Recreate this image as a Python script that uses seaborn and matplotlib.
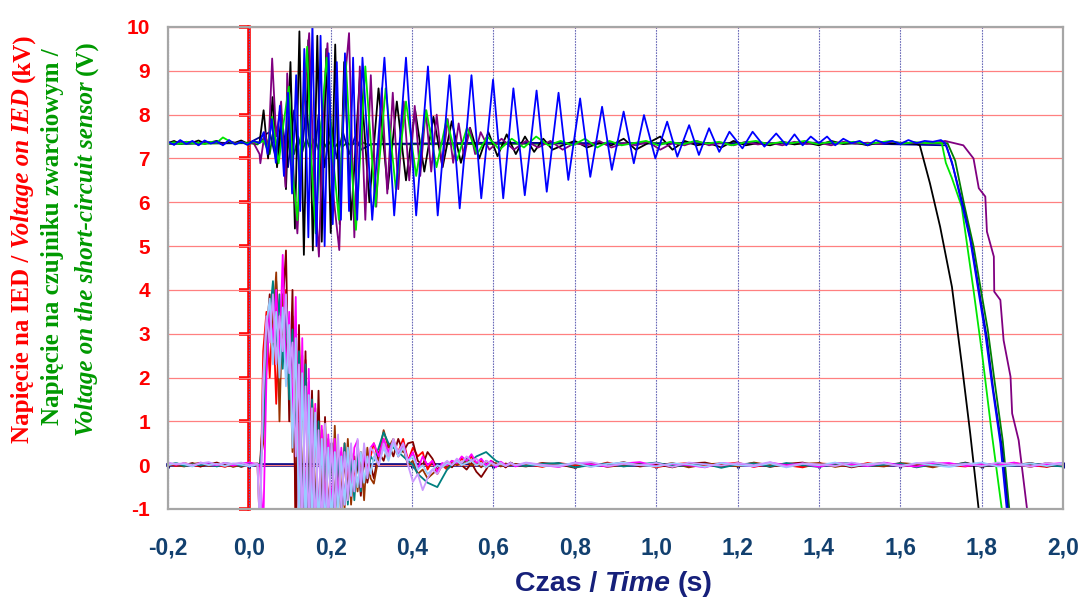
import pandas as pd
import seaborn as sns
import matplotlib
matplotlib.use("Agg")
import matplotlib.pyplot as plt
from matplotlib.transforms import IdentityTransform

# ----------------------------
# DATA
# ----------------------------

x_ticks = [-0.2, 0.0, 0.2, 0.4, 0.6, 0.8, 1.0, 1.2, 1.4, 1.6, 1.8, 2.0]
x_tick_labels = ["-0,2", "0,0", "0,2", "0,4", "0,6", "0,8", "1,0", "1,2", "1,4", "1,6", "1,8", "2,0"]
y_ticks = [-1, 0, 1, 2, 3, 4, 5, 6, 7, 8, 9, 10]
y_tick_labels = ["-1", "0", "1", "2", "3", "4", "5", "6", "7", "8", "9", "10"]


def seg(t0, dt, vals):
    # sampling grid for a run of values read at a steady spacing
    return [round(t0 + dt * i, 4) for i in range(len(vals))], list(vals)


def join(*parts):
    t, v = [], []
    for pt, pv in parts:
        t += list(pt)
        v += list(pv)
    return t, v


# --- voltage on the IED (kV), around 7.35 ---

blue_pre = [7.38, 7.31, 7.42, 7.33, 7.40, 7.30, 7.41, 7.34, 7.39, 7.30, 7.42, 7.32, 7.38, 7.31, 7.40, 7.35]
blue_burst = [7.6, 7.1, 7.9, 6.9, 8.2, 6.6, 8.5, 6.2, 8.9, 5.8, 9.5, 5.2, 10.1, 5.0, 9.8, 5.0,
              9.4, 5.5, 9.2, 5.6, 9.4, 5.8, 9.3, 5.6]
blue_mid_t = [0.278, 0.302, 0.332, 0.356, 0.385, 0.410, 0.439, 0.463, 0.492, 0.517, 0.546, 0.570,
              0.599, 0.624, 0.649, 0.677, 0.706, 0.731, 0.760, 0.784, 0.813, 0.838, 0.867, 0.891,
              0.920, 0.945, 0.970, 0.998, 1.027, 1.052, 1.081, 1.105, 1.130, 1.155, 1.180, 1.212,
              1.237, 1.266, 1.295]
blue_mid_v = [9.3, 5.6, 9.3, 5.7, 9.3, 5.7, 9.1, 5.7, 8.9, 5.86, 8.9, 6.09, 8.8, 6.09, 8.6, 6.16,
              8.55, 6.24, 8.5, 6.51, 8.37, 6.58, 8.18, 6.74, 8.07, 6.89, 7.99, 7.00, 7.84, 7.04,
              7.76, 7.08, 7.69, 7.15, 7.61, 7.23, 7.61, 7.27, 7.57]
blue_tail = [7.3, 7.55, 7.3, 7.5, 7.35, 7.5, 7.3, 7.45, 7.35, 7.4, 7.3, 7.42, 7.35, 7.4, 7.33,
             7.42, 7.35, 7.4, 7.38, 7.42]
blue_fall_t = [1.710, 1.727, 1.751, 1.772, 1.793, 1.809, 1.825, 1.846, 1.862, 1.870]
blue_fall_v = [7.35, 6.92, 5.97, 5.14, 3.92, 3.0, 1.87, 0.5, -1.03, -1.5]

navy_pre = [7.36, 7.34, 7.37, 7.35, 7.36]
navy_burst = [7.6, 7.0, 7.9, 6.8, 8.1, 6.6, 8.3, 6.5, 8.0, 6.8, 7.8, 7.0, 7.6, 7.1, 7.5, 7.2]
navy_rest_t = [0.3, 0.6, 1.0, 1.4, 1.713, 1.73, 1.755, 1.776, 1.797, 1.813, 1.829, 1.85, 1.866, 1.875]
navy_rest_v = [7.33, 7.36, 7.34, 7.36, 7.3, 6.8, 5.9, 5.0, 3.8, 2.9, 1.7, 0.4, -1.1, -1.5]

dkgreen_start_t = [-0.2, 0.0, 0.02]
dkgreen_start_v = [7.33, 7.35, 7.32]
dkgreen_burst = [7.5, 7.1, 7.7, 7.0, 7.6, 6.95, 7.55, 7.1, 7.5, 7.15, 7.45, 7.2,
                 7.45, 7.2, 7.4, 7.25, 7.4, 7.25, 7.38, 7.28, 7.36, 7.3, 7.35, 7.3, 7.36, 7.32]
dkgreen_rest_t = [0.6, 1.0, 1.4, 1.716, 1.735, 1.757, 1.78, 1.80, 1.815, 1.832, 1.852, 1.868, 1.878]
dkgreen_rest_v = [7.33, 7.35, 7.34, 7.35, 6.95, 5.95, 5.0, 3.9, 3.1, 1.9, 0.55, -1.0, -1.5]

black_pre = [7.35, 7.40, 7.33, 7.38, 7.36, 7.41, 7.34, 7.37, 7.40, 7.33, 7.38, 7.36, 7.41, 7.34, 7.38, 7.36]
black_burst = [8.1, 7.0, 8.4, 6.8, 8.0, 6.3, 9.2, 5.4, 9.9, 4.8, 9.7, 4.9, 9.8, 5.1, 9.5, 5.3, 9.6, 5.5, 9.2]
black_mid = [5.6, 9.0, 6.0, 8.6, 6.3, 8.3, 6.5, 8.1, 6.7, 7.95, 6.8, 7.85, 6.9, 7.7, 7.0, 7.6,
             7.05, 7.55, 7.1, 7.5, 7.15, 7.45, 7.2]
black_tail = [7.3, 7.4, 7.25, 7.35, 7.3, 7.45, 7.2, 7.35, 7.5, 7.2, 7.4, 7.3, 7.35, 7.25, 7.4,
              7.3, 7.35, 7.3, 7.38, 7.32, 7.36, 7.3, 7.4, 7.33, 7.36, 7.3, 7.38, 7.34, 7.36, 7.33]
black_fall_t = [1.648, 1.673, 1.698, 1.727, 1.751, 1.772, 1.793, 1.80]
black_fall_v = [7.3, 6.43, 5.44, 4.07, 2.32, 0.72, -1.03, -1.5]

purple_pre = [7.36, 7.32, 7.40, 7.34, 7.38, 7.31, 7.39, 7.35, 7.37, 7.32, 7.40, 7.34, 7.38, 7.33, 7.36, 7.1]
purple_burst_t = [0.027, 0.038, 0.047, 0.056, 0.066, 0.078, 0.089, 0.093, 0.105, 0.118, 0.132,
                  0.147, 0.159, 0.171, 0.182, 0.192, 0.206, 0.221, 0.233, 0.245]
purple_burst_v = [6.89, 7.6, 7.2, 9.28, 7.5, 8.3, 6.35, 8.94, 7.0, 5.29, 8.0, 9.86, 6.5, 4.76,
                  8.2, 9.63, 6.2, 4.91, 8.6, 9.86]
purple_mid = [5.2, 9.1, 5.6, 8.9, 5.9, 8.6, 6.2, 8.5, 6.3, 8.3, 6.5, 8.2, 6.6, 8.1, 6.7, 8.0,
              6.8, 7.9, 6.9, 7.8, 7.0, 7.7, 7.1, 7.6]
purple_tail = [7.2, 7.45, 7.2, 7.4, 7.25, 7.4, 7.2, 7.35, 7.3, 7.4, 7.25, 7.35, 7.3, 7.38, 7.2,
               7.35, 7.3, 7.4, 7.3, 7.36, 7.3, 7.38, 7.32, 7.36, 7.3, 7.38, 7.33, 7.36, 7.3, 7.38,
               7.34, 7.36, 7.33, 7.38, 7.35, 7.36, 7.34, 7.38]
purple_fall_t = [1.710, 1.755, 1.780, 1.793, 1.809, 1.813, 1.830, 1.831, 1.846, 1.854, 1.871,
                 1.875, 1.891, 1.912, 1.92]
purple_fall_v = [7.4, 7.3, 7.0, 6.32, 6.13, 5.33, 4.76, 3.96, 3.77, 2.85, 2.02, 1.18, 0.57, -1.03, -1.5]

lime_pre = [7.34, 7.37, 7.33, 7.38, 7.35, 7.36, 7.33, 7.38, 7.36, 7.48, 7.40, 7.33, 7.37, 7.34, 7.38, 7.36]
lime_burst_t = [0.035, 0.045, 0.056, 0.072, 0.084, 0.097, 0.108, 0.118, 0.130, 0.142, 0.152,
                0.163, 0.177, 0.19, 0.205, 0.22, 0.237, 0.25, 0.262, 0.285]
lime_burst_v = [7.4, 7.2, 7.95, 6.89, 7.8, 8.64, 6.5, 5.59, 8.0, 9.55, 7.0, 5.29, 7.8, 9.3,
                7.1, 5.6, 9.2, 7.0, 5.37, 9.1]
lime_mid = [5.9, 8.6, 6.3, 8.3, 6.6, 8.1, 6.8, 7.9, 6.95, 7.7, 7.1]
lime_tail = [7.5, 7.2, 7.45, 7.25, 7.5, 7.3, 7.4, 7.3, 7.45, 7.25, 7.4, 7.3, 7.35, 7.4, 7.3,
             7.38, 7.32, 7.4, 7.34, 7.38, 7.3, 7.36, 7.4, 7.33, 7.37, 7.35, 7.4, 7.33, 7.37,
             7.35, 7.38, 7.33, 7.36, 7.4, 7.34, 7.37, 7.35, 7.36]
lime_fall_t = [1.702, 1.712, 1.727, 1.751, 1.780, 1.801, 1.825, 1.850, 1.86]
lime_fall_v = [7.35, 6.9, 6.55, 5.9, 4.0, 2.55, 0.72, -1.03, -1.5]

# --- voltage on the short-circuit sensor (V), around 0 ---

red_pre = [0.03, -0.02, 0.05, 0.0, -0.03, 0.04, 0.01, -0.04, 0.03, 0.0, 0.05, -0.02]
red_burst = [-1.5, 2.6, 3.5, 2.0, 3.6, 1.4, 3.3, 2.6, 4.0, 2.2, 3.4, -1.5, 3.0, -1.5, 2.4, -1.5,
             1.6, -1.5, 1.2, -1.3, 0.8, -1.2, 0.5, -1.0, 0.4, -0.8, 0.5, -0.6, 0.3, -0.4, 0.4,
             -0.3, 0.3, -0.1, 0.2]
red_hump = [0.5, 0.1, 0.6, 0.2, 0.5, 0.3, 0.6, 0.1, 0.4, 0.2, 0.3, -0.1, 0.1, -0.2, 0.0, -0.1,
            0.1, 0.0, 0.15, 0.05, 0.2, 0.0, 0.1, -0.05, 0.1, 0.0, 0.05, -0.05, 0.05, 0.0]
red_tail = [0.03, -0.04, 0.05, 0.0, -0.03, 0.06, -0.02, 0.04, -0.05, 0.02, 0.05, -0.03, 0.01,
            0.06, -0.04, 0.03, 0.0, -0.05, 0.04, 0.02, -0.03, 0.05, -0.01, 0.03, -0.04, 0.06,
            0.0, -0.03, 0.04, -0.02, 0.05, 0.0, -0.04, 0.03]

maroon_pre = [-0.02, 0.04, 0.0, 0.05, -0.03, 0.02, 0.06, -0.01, 0.03, -0.04, 0.02, 0.04]
maroon_burst = [0.0, 1.2, 3.0, 3.9, 2.5, 4.2, 2.8, 3.6, 4.9, 1.0, 4.0, -1.5, 3.2, -1.5, 2.6,
                -1.5, 1.7, -1.5, 1.7, -1.5, 1.1, -1.4, 0.5, -1.2, 0.4, -1.0, 0.2, -0.8, 0.3,
                -0.6, 0.1, -0.7, 0.2, -0.4, 0.0]
maroon_hump = [-0.3, 0.3, 0.1, 0.5, 0.2, 0.6, 0.3, 0.5, 0.53, 0.1, 0.0, 0.3, 0.15, -0.1, 0.0,
               0.05, -0.05, 0.1, 0.0, -0.1, 0.05, -0.15, -0.27, -0.1, 0.1, 0.0, 0.05, -0.05, 0.06, 0.0]
maroon_tail = [-0.03, 0.05, 0.02, -0.06, 0.04, 0.0, 0.07, -0.03, 0.02, -0.05, 0.04, 0.06, -0.02,
               0.0, 0.05, -0.04, 0.03, 0.06, -0.02, 0.04, -0.05, 0.02, 0.05, -0.03, 0.0, 0.04,
               -0.02, 0.06, -0.04, 0.03, 0.0, 0.05, -0.03, 0.04]

brown_pre = [0.04, 0.0, -0.03, 0.03, 0.05, -0.02, 0.02, 0.04, -0.04, 0.01, 0.03, 0.0]
brown_burst = [0.0, 0.5, 2.5, 3.7, 3.2, 4.4, 1.0, 3.9, 2.5, 3.2, 0.3, 2.8, -1.5, 2.5, -1.5, 1.9,
               -1.5, 1.3, -1.5, 0.8, -1.4, 0.6, -1.3, 0.9, -1.1, 0.3, -1.0, 0.6, -0.9, 0.2,
               -0.6, 0.3, -0.8, 0.4, -0.3]
brown_hump = [-0.42, 0.2, 0.8, 0.4, 0.6, 0.2, 0.4, 0.0, 0.1, -0.2, -0.1, -0.3, -0.2, -0.1, 0.0,
              -0.05, 0.1, 0.0, 0.05, 0.1, 0.0, 0.05, -0.05, 0.1, 0.0, 0.05, -0.03, 0.04, 0.0, 0.03]
brown_tail = [0.0, 0.04, -0.03, 0.02, 0.05, -0.04, 0.01, 0.03, -0.02, 0.05, -0.05, 0.02, 0.04,
              -0.03, 0.06, 0.0, -0.02, 0.03, 0.05, -0.04, 0.02, 0.0, -0.03, 0.05, 0.02, -0.05,
              0.03, 0.0, 0.04, -0.02, 0.03, -0.04, 0.05, 0.0]

teal_pre = [0.01, 0.05, -0.02, 0.02, 0.0, 0.04, -0.03, 0.05, 0.02, -0.02, 0.04, 0.01]
teal_burst = [0.0, 0.8, 2.3, 3.4, 4.2, 2.7, 3.9, 2.2, 3.7, 1.5, 3.1, 0.5, 2.6, -1.5, 2.3, -1.5,
              1.5, -1.5, 1.0, -1.5, 0.7, -1.5, 0.5, -1.2, 0.3, -1.0, 0.5, -0.9, 0.2, -0.8, 0.3,
              -0.6, 0.4, -0.3, 0.2]
teal_hump = [0.1, 0.4, 0.75, 0.5, 0.4, 0.3, 0.2, 0.1, 0.0, -0.2, -0.3, -0.4, -0.45, -0.5, -0.3,
             -0.1, 0.0, 0.1, 0.05, 0.15, 0.1, 0.2, 0.25, 0.3, 0.2, 0.1, 0.05, 0.0, 0.05, 0.0]
teal_tail = [-0.02, 0.03, 0.05, -0.05, 0.0, 0.04, -0.03, 0.02, 0.06, -0.02, 0.0, 0.03, -0.06,
             0.02, 0.04, -0.03, 0.05, 0.0, -0.04, 0.03, 0.05, -0.02, 0.01, 0.04, -0.05, 0.02,
             0.0, 0.05, -0.03, 0.03, -0.01, 0.04, 0.0, -0.03]

magenta_pre = [0.05, 0.01, 0.04, -0.02, 0.06, 0.02, 0.0, 0.05, -0.01, 0.04, 0.06, 0.02]
magenta_burst = [0.0, -1.5, 2.0, 3.6, 2.8, 4.0, 2.4, 4.8, 2.0, 3.5, 1.0, 3.84, -1.5, 2.9, -1.5,
                 2.2, -1.5, 1.4, -1.5, 0.9, -1.3, 0.7, -1.1, 0.6, -0.9, 0.4, -0.9, 0.3, -0.7,
                 0.4, 0.57, -0.5, 0.3, -0.2, 0.4]
magenta_hump = [0.5, 0.2, 0.6, 0.3, 0.55, 0.2, 0.5, 0.1, 0.3, -0.1, 0.2, 0.0, 0.1, -0.15, 0.05,
                0.0, 0.1, 0.05, 0.2, 0.1, 0.25, 0.05, 0.15, 0.0, 0.1, -0.05, 0.08, 0.0, 0.05, -0.03]
magenta_tail = [0.05, 0.0, -0.04, 0.06, 0.02, -0.03, 0.04, 0.07, -0.02, 0.03, 0.0, -0.05, 0.05,
                0.02, -0.03, 0.06, 0.0, 0.04, -0.04, 0.05, 0.02, -0.02, 0.06, 0.0, -0.03, 0.04,
                0.05, -0.02, 0.03, 0.0, 0.06, -0.03, 0.02, 0.05]

ltblue_pre = [0.0, 0.04, 0.02, -0.03, 0.05, 0.0, 0.03, -0.02, 0.04, 0.01, -0.03, 0.02]
ltblue_burst = [-1.5, 1.5, 3.2, 3.8, 2.3, 3.5, 2.0, 3.6, 1.8, 3.2, 0.4, 2.9, -1.5, 2.1, -1.5,
                1.6, -1.5, 1.2, -1.5, 0.6, -1.5, 0.4, -1.3, 0.3, -1.1, 0.2, -0.9, 0.4, -0.7,
                0.1, -0.5, 0.3, -0.4, 0.2, -0.2]
ltblue_hump = [0.2, 0.0, 0.4, 0.1, 0.5, 0.2, 0.4, 0.1, 0.2, -0.1, 0.0, -0.2, -0.1, 0.0, -0.05,
               0.05, 0.0, 0.1, 0.0, 0.05, 0.1, 0.0, 0.05, -0.05, 0.05, 0.0, 0.03, -0.02, 0.04, 0.0]
ltblue_tail = [0.04, -0.02, 0.0, 0.05, -0.04, 0.03, 0.06, 0.0, -0.03, 0.04, 0.02, -0.04, 0.05,
               0.0, -0.02, 0.04, -0.05, 0.03, 0.0, 0.06, -0.03, 0.03, 0.04, -0.02, 0.05, 0.0,
               -0.04, 0.02, 0.06, -0.03, 0.0, 0.04, -0.02, 0.05]

lavender_pre = [0.06, 0.02, 0.05, 0.0, 0.04, 0.07, 0.01, 0.05, 0.03, 0.06, 0.0, 0.04]
lavender_burst = [-1.5, 2.0, 3.4, 2.8, 3.9, 2.3, 3.4, 2.6, 3.9, 2.1, 2.8, 0.2, 2.3, -1.5, 1.8,
                  -1.5, 1.3, -1.5, 0.8, -1.5, 0.95, -1.4, 0.6, -1.2, 0.7, -1.0, 0.3, -0.8, 0.5,
                  -0.6, 0.6, -0.5, 0.5, -0.3, 0.4]
lavender_hump = [0.3, 0.0, 0.5, 0.2, 0.6, 0.3, 0.5, 0.0, -0.38, -0.2, -0.57, -0.3, -0.1, -0.2,
                 0.0, 0.1, 0.0, 0.15, 0.05, 0.2, 0.1, 0.15, 0.0, 0.1, 0.05, 0.0, 0.06, -0.02, 0.05, 0.0]
lavender_tail = [0.06, 0.01, -0.03, 0.04, 0.07, -0.02, 0.03, 0.0, 0.05, -0.04, 0.06, 0.02, -0.01,
                 0.05, 0.0, 0.07, -0.03, 0.04, 0.02, -0.02, 0.06, 0.0, 0.05, -0.03, 0.04, 0.07,
                 0.0, 0.03, -0.02, 0.06, 0.02, -0.03, 0.05, 0.01]

# ----------------------------
# BUILD LONG TABLE
# ----------------------------

upper = {
    "dkgreen": join((dkgreen_start_t, dkgreen_start_v), seg(0.04, 0.01, dkgreen_burst),
                    (dkgreen_rest_t, dkgreen_rest_v)),
    "navy": join(seg(-0.2, 0.05, navy_pre), seg(0.05, 0.015, navy_burst),
                 (navy_rest_t, navy_rest_v)),
    "black": join(seg(-0.2, 0.015, black_pre), seg(0.035, 0.011, black_burst),
                  seg(0.25, 0.0225, black_mid), seg(0.77, 0.03, black_tail),
                  (black_fall_t, black_fall_v)),
    "purple": join(seg(-0.2, 0.015, purple_pre), (purple_burst_t, purple_burst_v),
                   seg(0.258, 0.0135, purple_mid), seg(0.59, 0.03, purple_tail),
                   (purple_fall_t, purple_fall_v)),
    "lime": join(seg(-0.2, 0.015, lime_pre), (lime_burst_t, lime_burst_v),
                 seg(0.31, 0.025, lime_mid), seg(0.585, 0.03, lime_tail),
                 (lime_fall_t, lime_fall_v)),
    "blue": join(seg(-0.2, 0.015, blue_pre), seg(0.035, 0.01, blue_burst),
                 (blue_mid_t, blue_mid_v), seg(1.32, 0.02, blue_tail),
                 (blue_fall_t, blue_fall_v)),
}

lower = {}
for name, pre, burst, hump, tail in [
    ("red", red_pre, red_burst, red_hump, red_tail),
    ("maroon", maroon_pre, maroon_burst, maroon_hump, maroon_tail),
    ("brown", brown_pre, brown_burst, brown_hump, brown_tail),
    ("teal", teal_pre, teal_burst, teal_hump, teal_tail),
    ("magenta", magenta_pre, magenta_burst, magenta_hump, magenta_tail),
    ("ltblue", ltblue_pre, ltblue_burst, ltblue_hump, ltblue_tail),
    ("lavender", lavender_pre, lavender_burst, lavender_hump, lavender_tail),
]:
    lower[name] = join(seg(-0.2, 0.02, pre), seg(0.026, 0.008, burst),
                       seg(0.306, 0.012, hump), seg(0.68, 0.04, tail))

colors = {
    "dkgreen": "#008000", "navy": "#000099", "black": "#000000", "purple": "#800080",
    "lime": "#00E600", "blue": "#0000FF",
    "red": "#FF0000", "maroon": "#800000", "brown": "#993300", "teal": "#008080",
    "magenta": "#FF00FF", "ltblue": "#99CCFF", "lavender": "#CC99FF",
}

rows = []
for name, (tt, vv) in list(upper.items()) + list(lower.items()):
    for t, v in zip(tt, vv):
        rows.append((name, t, v))
df = pd.DataFrame(rows, columns=["series", "t", "v"])
order = list(upper.keys()) + list(lower.keys())

# ----------------------------
# PLOT
# ----------------------------

sns.set_style("white")
plt.rcParams["font.family"] = ["Liberation Sans", "DejaVu Sans"]
plt.rcParams["axes.unicode_minus"] = False

fig = plt.figure(figsize=(10.82, 5.99), dpi=100)
ax = fig.add_axes([168 / 1082, 90 / 599, 895 / 1082, 482 / 599])

sns.lineplot(data=df, x="t", y="v", hue="series", hue_order=order, palette=colors,
             estimator=None, sort=False, legend=False, linewidth=1.3, ax=ax)

ax.set_xlim(-0.2, 2.0)
ax.set_ylim(-1, 10)
ax.set_xticks(x_ticks, x_tick_labels)
ax.set_yticks(y_ticks, y_tick_labels)
ax.set_xlabel("")
ax.set_ylabel("")

ax.set_axisbelow(True)
ax.yaxis.grid(True, color="#FF8080", linewidth=0.9)
ax.xaxis.grid(True, color="#6A6AB8", linewidth=0.8, linestyle=(0, (1.5, 1)))

for sp in ax.spines.values():
    sp.set_color("#A6A6A6")
    sp.set_linewidth(1.6)

ax.tick_params(axis="both", length=0)
ax.tick_params(axis="y", pad=13, labelsize=15, labelcolor="#FF0000")
ax.tick_params(axis="x", pad=20, labelsize=16.5, labelcolor="#12406F")
for lab in ax.get_xticklabels() + ax.get_yticklabels():
    lab.set_fontweight("bold")

# red value axis crossing at t = 0
sec_y = ax.secondary_yaxis(0.2 / 2.2)
sec_y.set_yticks(y_ticks)
sec_y.spines["left"].set_color("#FF0000")
sec_y.spines["left"].set_linewidth(2.6)
sec_y.tick_params(axis="y", colors="#FF0000", length=7, width=2.6, labelleft=False)

# navy time axis crossing at 0 V
sec_x = ax.secondary_xaxis(1 / 11)
sec_x.set_xticks(x_ticks)
sec_x.spines["bottom"].set_color("#000080")
sec_x.spines["bottom"].set_linewidth(2.6)
sec_x.tick_params(axis="x", colors="#000080", length=4, width=2.2, direction="inout",
                  labelbottom=False)


# ----------------------------
# AXIS TITLES (mixed colour / style pieces)
# ----------------------------

def place_pieces(pieces, cx, cy, vertical, size, family):
    renderer = fig.canvas.get_renderer()
    arts = []
    for txt, color, style in pieces:
        arts.append(fig.text(0, 0, txt, color=color, fontstyle=style, fontweight="bold",
                             fontsize=size, family=family, rotation=90 if vertical else 0,
                             transform=IdentityTransform(),
                             ha="center" if vertical else "left",
                             va="bottom" if vertical else "center"))
    gap = 0.25 * size * fig.dpi / 72
    ext = [a.get_window_extent(renderer) for a in arts]
    lengths = [e.height if vertical else e.width for e in ext]
    total = sum(lengths) + gap * (len(arts) - 1)
    pos = (cy if vertical else cx) - total / 2
    for a, L in zip(arts, lengths):
        a.set_position((cx, pos) if vertical else (pos, cy))
        pos += L + gap


serif = ["Liberation Serif", "DejaVu Serif"]
red = "#FF0000"
grn = "#009900"
place_pieces([("Napięcie na IED /", red, "normal"), ("Voltage on IED", red, "italic"),
              ("(kV)", red, "normal")], 23, 361, True, 18, serif)
place_pieces([("Napięcie na czujniku zwarciowym /", grn, "normal")], 53, 362, True, 18, serif)
place_pieces([("Voltage on the short-circuit sensor", grn, "italic"), ("(V)", grn, "normal")],
             87, 361, True, 18, serif)

navy_txt = "#16207A"
place_pieces([("Czas /", navy_txt, "normal"), ("Time", navy_txt, "italic"),
              ("(s)", navy_txt, "normal")], 614, 15, False, 20.5, ["Liberation Sans", "DejaVu Sans"])

fig.savefig("out.png", dpi=100)
